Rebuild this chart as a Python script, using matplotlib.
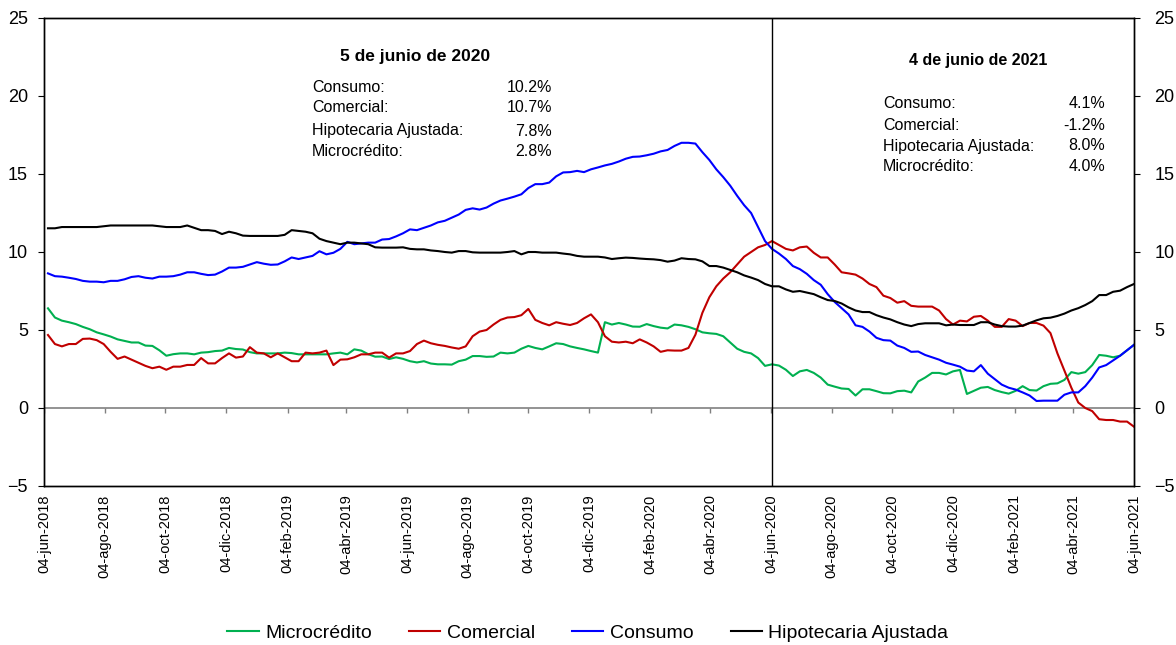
import matplotlib
matplotlib.use("Agg")
import matplotlib.pyplot as plt
import pandas as pd

plt.rcParams['font.family'] = ['Liberation Sans', 'DejaVu Sans']

dates = pd.date_range(end='2021-06-04', periods=157, freq='7D')

microcredito = [
    6.39, 5.8, 5.6, 5.5, 5.38, 5.2, 5.05, 4.85, 4.72, 4.58,
    4.4, 4.3, 4.2, 4.2, 4.0, 3.98, 3.7, 3.35, 3.45, 3.5,
    3.5, 3.44, 3.55, 3.58, 3.65, 3.68, 3.85, 3.78, 3.75, 3.58,
    3.5, 3.5, 3.5, 3.5, 3.55, 3.52, 3.44, 3.44, 3.44, 3.44,
    3.44, 3.5, 3.55, 3.44, 3.76, 3.68, 3.45, 3.29, 3.3, 3.14,
    3.25, 3.15, 3.0, 2.92, 3.0, 2.85, 2.8, 2.8, 2.78, 3.0,
    3.1, 3.33, 3.33, 3.28, 3.3, 3.55, 3.5, 3.55, 3.8, 3.98,
    3.85, 3.76, 3.95, 4.15, 4.1, 3.95, 3.85, 3.76, 3.65, 3.55,
    5.5, 5.35, 5.45, 5.35, 5.22, 5.21, 5.38, 5.25, 5.15, 5.1,
    5.35, 5.3, 5.2, 5.05, 4.85, 4.79, 4.75, 4.6, 4.2, 3.8,
    3.6, 3.5, 3.2, 2.7, 2.8, 2.72, 2.45, 2.05, 2.35, 2.44,
    2.25, 1.95, 1.5, 1.37, 1.25, 1.22, 0.8, 1.2, 1.2, 1.08,
    0.95, 0.94, 1.08, 1.11, 1.0, 1.7, 1.95, 2.25, 2.25, 2.15,
    2.35, 2.44, 0.9, 1.1, 1.3, 1.35, 1.15, 1.02, 0.92, 1.1,
    1.4, 1.15, 1.12, 1.4, 1.55, 1.58, 1.8, 2.3, 2.2, 2.3,
    2.75, 3.4, 3.35, 3.25, 3.35, 3.7, 4.05,
]

comercial = [
    4.68, 4.1, 3.95, 4.1, 4.1, 4.43, 4.45, 4.35, 4.1, 3.6,
    3.15, 3.3, 3.1, 2.9, 2.7, 2.55, 2.65, 2.45, 2.65, 2.65,
    2.76, 2.76, 3.2, 2.86, 2.86, 3.2, 3.5, 3.23, 3.3, 3.9,
    3.55, 3.5, 3.25, 3.5, 3.25, 3.0, 3.0, 3.55, 3.5, 3.55,
    3.68, 2.75, 3.1, 3.12, 3.25, 3.44, 3.44, 3.55, 3.55, 3.23,
    3.5, 3.5, 3.65, 4.1, 4.32, 4.15, 4.05, 3.98, 3.88, 3.8,
    3.95, 4.6, 4.9, 5.0, 5.35, 5.65, 5.8, 5.83, 5.95, 6.35,
    5.65, 5.45, 5.3, 5.5, 5.4, 5.32, 5.45, 5.75, 6.0, 5.5,
    4.6, 4.25, 4.2, 4.25, 4.15, 4.4, 4.2, 3.95, 3.6, 3.7,
    3.68, 3.68, 3.85, 4.7, 6.1, 7.1, 7.8, 8.3, 8.7, 9.2,
    9.7, 10.0, 10.3, 10.45, 10.7, 10.45, 10.2, 10.1, 10.3, 10.35,
    9.95, 9.65, 9.65, 9.2, 8.7, 8.63, 8.55, 8.3, 7.95, 7.75,
    7.2, 7.05, 6.75, 6.85, 6.55, 6.5, 6.5, 6.5, 6.25, 5.7,
    5.35, 5.6, 5.55, 5.85, 5.9, 5.6, 5.2, 5.2, 5.7, 5.6,
    5.25, 5.45, 5.45, 5.28, 4.8, 3.5, 2.4, 1.3, 0.35, 0.0,
    -0.2, -0.72, -0.77, -0.77, -0.87, -0.87, -1.2,
]

consumo = [
    8.63, 8.45, 8.42, 8.35, 8.27, 8.15, 8.1, 8.1, 8.06, 8.15,
    8.15, 8.25, 8.4, 8.45, 8.35, 8.3, 8.42, 8.42, 8.45, 8.55,
    8.7, 8.7, 8.6, 8.52, 8.55, 8.75, 9.0, 9.0, 9.05, 9.2,
    9.35, 9.25, 9.18, 9.2, 9.4, 9.65, 9.55, 9.65, 9.75, 10.05,
    9.85, 9.95, 10.2, 10.65, 10.5, 10.55, 10.6, 10.6, 10.8, 10.83,
    11.0, 11.2, 11.45, 11.4, 11.55, 11.7, 11.9, 12.0, 12.2, 12.4,
    12.7, 12.8, 12.72, 12.85, 13.1, 13.3, 13.42, 13.55, 13.7, 14.1,
    14.35, 14.35, 14.45, 14.85, 15.1, 15.12, 15.2, 15.12, 15.3, 15.42,
    15.55, 15.65, 15.8, 15.98, 16.1, 16.12, 16.2, 16.3, 16.45, 16.54,
    16.8, 17.0, 17.0, 16.95, 16.4, 15.9, 15.3, 14.8, 14.25, 13.6,
    13.0, 12.5, 11.6, 10.7, 10.2, 9.9, 9.55, 9.1, 8.9, 8.6,
    8.2, 7.9, 7.3, 6.8, 6.4, 6.0, 5.3, 5.2, 4.9, 4.5,
    4.35, 4.32, 4.0, 3.85, 3.6, 3.62, 3.4, 3.25, 3.1, 2.9,
    2.78, 2.65, 2.4, 2.35, 2.75, 2.2, 1.85, 1.5, 1.3, 1.18,
    1.0, 0.8, 0.45, 0.47, 0.47, 0.47, 0.85, 1.0, 1.0, 1.4,
    1.95, 2.6, 2.75, 3.05, 3.35, 3.7, 4.05,
]

hipotecaria = [
    11.52, 11.52, 11.6, 11.6, 11.6, 11.6, 11.6, 11.6, 11.65, 11.7,
    11.7, 11.7, 11.7, 11.7, 11.7, 11.7, 11.65, 11.6, 11.6, 11.6,
    11.7, 11.55, 11.4, 11.4, 11.35, 11.15, 11.3, 11.2, 11.05, 11.03,
    11.03, 11.03, 11.03, 11.03, 11.1, 11.4, 11.35, 11.3, 11.2, 10.85,
    10.7, 10.6, 10.5, 10.6, 10.6, 10.55, 10.5, 10.3, 10.28, 10.28,
    10.28, 10.3, 10.2, 10.17, 10.17, 10.1, 10.06, 10.0, 9.96, 10.06,
    10.06, 9.98, 9.96, 9.96, 9.96, 9.96, 10.0, 10.06, 9.85, 10.0,
    10.0, 9.96, 9.96, 9.96, 9.9, 9.85, 9.75, 9.7, 9.7, 9.7,
    9.65, 9.55, 9.6, 9.64, 9.62, 9.58, 9.55, 9.53, 9.48, 9.38,
    9.45, 9.6, 9.55, 9.53, 9.4, 9.1, 9.1, 9.0, 8.85, 8.7,
    8.5, 8.36, 8.2, 7.95, 7.8, 7.8, 7.6, 7.45, 7.5, 7.4,
    7.3, 7.1, 6.92, 6.86, 6.7, 6.45, 6.25, 6.15, 6.15, 5.95,
    5.8, 5.68, 5.5, 5.35, 5.25, 5.38, 5.43, 5.43, 5.43, 5.3,
    5.35, 5.32, 5.32, 5.32, 5.5, 5.5, 5.35, 5.25, 5.22, 5.22,
    5.28, 5.45, 5.62, 5.75, 5.79, 5.9, 6.05, 6.25, 6.4, 6.6,
    6.85, 7.24, 7.24, 7.45, 7.52, 7.75, 7.95,
]

tick_dates = pd.to_datetime([
    '2018-06-04', '2018-08-04', '2018-10-04', '2018-12-04', '2019-02-04', '2019-04-04',
    '2019-06-04', '2019-08-04', '2019-10-04', '2019-12-04', '2020-02-04', '2020-04-04',
    '2020-06-04', '2020-08-04', '2020-10-04', '2020-12-04', '2021-02-04', '2021-04-04',
    '2021-06-04'])
tick_labels = [
    '04-jun-2018', '04-ago-2018', '04-oct-2018', '04-dic-2018', '04-feb-2019', '04-abr-2019',
    '04-jun-2019', '04-ago-2019', '04-oct-2019', '04-dic-2019', '04-feb-2020', '04-abr-2020',
    '04-jun-2020', '04-ago-2020', '04-oct-2020', '04-dic-2020', '04-feb-2021', '04-abr-2021',
    '04-jun-2021']
marker_date = pd.Timestamp('2020-06-05')

W, H = 1176, 645
fig = plt.figure(figsize=(W / 100, H / 100), dpi=100)
ax = fig.add_axes([44 / W, 1 - 486 / H, (1134 - 44) / W, (486 - 18) / H])

lw = 1.5
ax.plot(dates, microcredito, color='#00B050', lw=lw, label='Microcrédito')
ax.plot(dates, comercial, color='#C00000', lw=lw, label='Comercial')
ax.plot(dates, consumo, color='#0000FF', lw=lw, label='Consumo')
ax.plot(dates, hipotecaria, color='black', lw=lw, label='Hipotecaria Ajustada')

ax.set_xlim(tick_dates[0], tick_dates[-1])
yt = list(range(-5, 30, 5))
ax.set_ylim(-5, 25)
ax.set_yticks(yt)
ax.tick_params(axis='y', direction='out', length=4.5, width=0.8,
               left=True, right=False, labelleft=True, labelright=False, labelsize=13, pad=7)
ax.set_xticks(tick_dates)
ax.set_xticklabels(tick_labels, rotation=90, fontsize=10.5)
ax.tick_params(axis='x', length=0, pad=6)

ax2 = ax.twinx()
ax2.set_ylim(-5, 25)
ax2.set_yticks(yt)
ax2.tick_params(axis='y', direction='out', length=4.5, width=0.8, labelsize=13, pad=10)

for a in (ax, ax2):
    for s in ['left', 'right', 'bottom', 'top']:
        a.spines[s].set_color('black')
        a.spines[s].set_linewidth(1.0)

# zero line with gray tick marks
ax.axhline(0, color='#808080', lw=1.2, zorder=1)
ax.vlines(tick_dates, -0.35, 0, color='#808080', lw=1.0, zorder=1)

# vertical marker line
ax.axvline(marker_date, color='black', lw=1.0, zorder=3)

def ftxt(x, y, s, **kw):
    fig.text(x / W, 1 - y / H, s, va='center', **kw)

fs = 11.5
ftxt(415, 56, '5 de junio de 2020', ha='center', fontsize=12.5, fontweight='bold')
rows1 = [('Consumo:', '10.2%'), ('Comercial:', '10.7%'),
         ('Hipotecaria Ajustada:', '7.8%'), ('Microcrédito:', '2.8%')]
for k, (lab, val) in enumerate(rows1):
    y = [88, 108, 131, 152][k]
    ftxt(312, y, lab, ha='left', fontsize=fs)
    ftxt(552, y, val, ha='right', fontsize=fs)

ftxt(978, 60, '4 de junio de 2021', ha='center', fontsize=11.5, fontweight='bold')
rows2 = [('Consumo:', '4.1%'), ('Comercial:', '-1.2%'),
         ('Hipotecaria Ajustada:', '8.0%'), ('Microcrédito:', '4.0%')]
for k, (lab, val) in enumerate(rows2):
    y = [103, 125, 146, 167][k]
    ftxt(883, y, lab, ha='left', fontsize=fs)
    ftxt(1105, y, val, ha='right', fontsize=fs)

fig.legend(loc='center', bbox_to_anchor=(588 / W, 1 - 633 / H), ncol=4, frameon=False,
           fontsize=14, handlelength=1.6, handletextpad=0.35, columnspacing=1.9)

fig.savefig('out.png', dpi=100, facecolor='white')
